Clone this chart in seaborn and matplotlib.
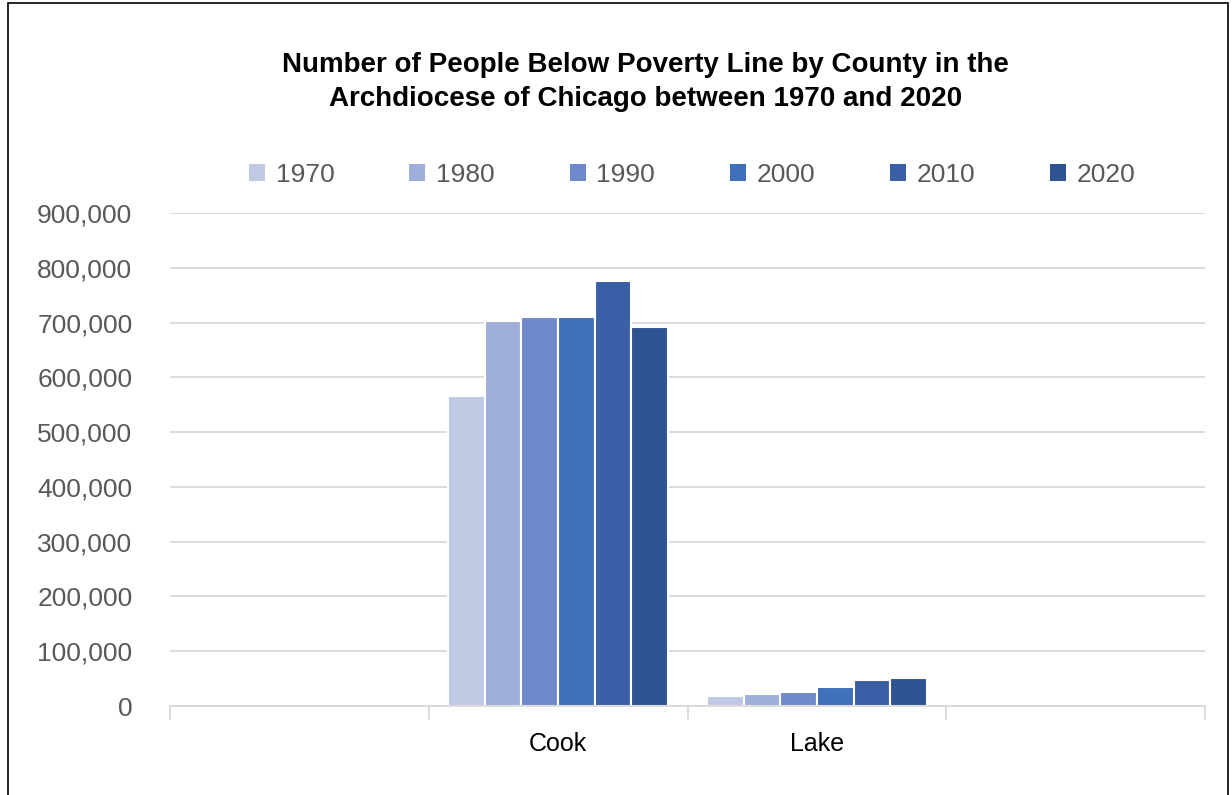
import numpy as np
import pandas as pd
import matplotlib
matplotlib.use("Agg")
import matplotlib.pyplot as plt
import seaborn as sns
from matplotlib.patches import Patch, Rectangle

# =========================
# DATA
# =========================
counties = ["Cook", "Lake"]
years = ["1970", "1980", "1990", "2000", "2010", "2020"]
cook_values = [566000, 703000, 710000, 710000, 776000, 692000]
lake_values = [18000, 21000, 25000, 35000, 47000, 51000]
slot_order = ["", "Cook", "Lake", " "]

colors = ["#C0C9E4", "#A0AFD9", "#6F8ACB", "#406FBC", "#3A5FA6", "#2F5290"]

rows = []
for year, c, l in zip(years, cook_values, lake_values):
    rows.append({"County": "Cook", "Year": year, "People": c})
    rows.append({"County": "Lake", "Year": year, "People": l})
df = pd.DataFrame(rows)

# =========================
# STYLE
# =========================
sns.set_style("white")
plt.rcParams["font.family"] = ["Liberation Sans", "DejaVu Sans"]

fig = plt.figure(figsize=(12.32, 7.95), dpi=100)
ax = fig.add_axes([170 / 1232, 1 - 706 / 795, (1205 - 170) / 1232, (706 - 213) / 795])

sns.barplot(
    data=df,
    x="County",
    y="People",
    hue="Year",
    order=slot_order,
    hue_order=years,
    palette=colors,
    saturation=1,
    width=0.85,
    edgecolor="white",
    linewidth=1.5,
    errorbar=None,
    ax=ax,
)

# =========================
# AXES
# =========================
ax.set_xlim(-0.5, 3.5)
ax.set_ylim(0, 900000)
ax.set_yticks(np.arange(0, 900001, 100000))
ax.set_yticklabels([f"{v:,}" for v in range(0, 900001, 100000)])
ax.yaxis.grid(True, color="#D9D9D9", linewidth=1.3)
ax.set_axisbelow(True)

ax.set_xticks([0, 1, 2, 3])
ax.set_xticklabels(slot_order)
ax.set_xticks([-0.5, 0.5, 1.5, 2.5, 3.5], minor=True)
ax.tick_params(axis="x", which="major", bottom=True, length=0, pad=19,
               labelsize=18, labelcolor="black")
ax.tick_params(axis="x", which="minor", bottom=True, length=10, width=1.3,
               color="#D9D9D9")
ax.tick_params(axis="y", length=0, pad=27, labelsize=19, labelcolor="#595959")

for side in ["left", "right", "top"]:
    ax.spines[side].set_visible(False)
ax.spines["bottom"].set_color("#D9D9D9")
ax.spines["bottom"].set_linewidth(1.3)

ax.set_xlabel("")
ax.set_ylabel("")

# =========================
# LEGEND
# =========================
ax.get_legend().remove()
handles = [Patch(facecolor=c, edgecolor="none") for c in colors]
fig.legend(
    handles,
    years,
    loc="center",
    bbox_to_anchor=(0.562, 1 - 175 / 795),
    ncol=6,
    frameon=False,
    fontsize=19,
    labelcolor="#595959",
    handlelength=0.6,
    handleheight=0.6,
    handletextpad=0.4,
    columnspacing=2.85,
)

# =========================
# TITLE
# =========================
fig.text(
    0.524,
    1 - 82 / 795,
    "Number of People Below Poverty Line by County in the\nArchdiocese of Chicago between 1970 and 2020",
    ha="center",
    va="center",
    fontsize=20,
    fontweight="bold",
    color="black",
    linespacing=1.35,
)

# figure border
fig.patches.append(
    Rectangle((8 / 1232, -0.01), 1220 / 1232, 1.0 - 3 / 795 + 0.01,
              transform=fig.transFigure, fill=False, edgecolor="black", linewidth=1.2)
)

fig.savefig("out.png", dpi=100)
plt.close(fig)
